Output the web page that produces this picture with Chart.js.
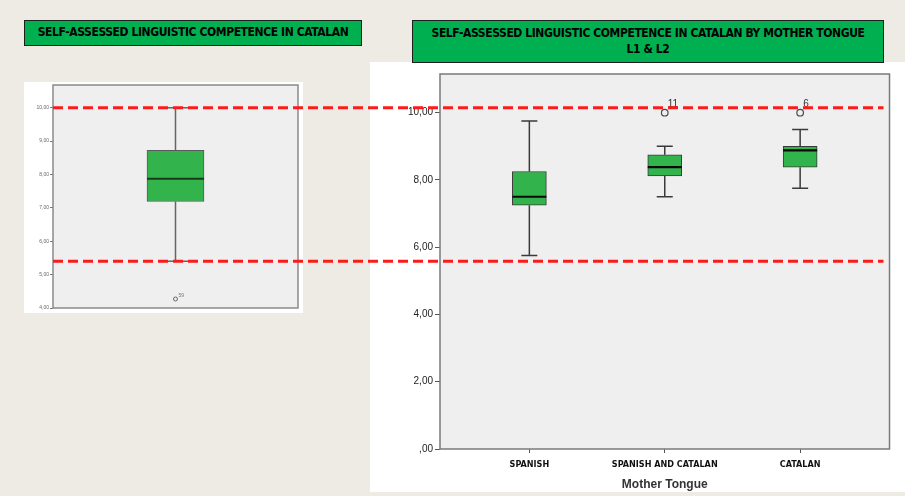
<!DOCTYPE html>
<html>
<head>
<meta charset="utf-8">
<script src="https://cdn.jsdelivr.net/npm/chart.js@4/dist/chart.umd.min.js"></script>
<style>
  html, body { margin: 0; padding: 0; }
  body { width: 905px; height: 496px; background: #EEEBE4; position: relative; overflow: hidden;
         font-family: "Liberation Sans", Arial, sans-serif; }
  .panel { position: absolute; background: #ffffff; }
  .panel canvas { display: block; position: relative; }
  .title { position: absolute; background: #00B050; border: 1.5px solid #1e1e1e; box-sizing: border-box;
           color: #000; font-family: "Liberation Sans Narrow", "DejaVu Sans Condensed", sans-serif;
           font-weight: bold; font-size: 12px; text-align: center; letter-spacing: -0.4px; }
  #guides { position: absolute; left: 0; top: 0; pointer-events: none; }
</style>
</head>
<body>

<div class="panel" style="left:24px;top:82px;width:279px;height:231px;">
  <canvas id="overall" width="279" height="233" style="width:279px;height:233px;top:-2px;filter:blur(0.45px);"></canvas>
</div>
<div class="panel" style="left:370px;top:62px;width:535px;height:430px;">
  <canvas id="byTongue" width="535" height="430" style="width:535px;height:430px;"></canvas>
</div>

<div class="title" style="left:24px;top:20px;width:338px;height:26px;line-height:23px;">SELF-ASSESSED LINGUISTIC COMPETENCE IN CATALAN</div>
<div class="title" style="left:412px;top:20px;width:472px;height:43px;padding-top:4px;line-height:16px;">SELF-ASSESSED LINGUISTIC COMPETENCE IN CATALAN BY MOTHER TONGUE<br>L1 &amp; L2</div>

<canvas id="guides" width="905" height="496"></canvas>

<script>
// ---- Overall self-assessed competence (all students) ----
const overallLow = 5.4;
const overallQ1 = 7.19;
const overallMedian = 7.87;
const overallQ3 = 8.72;
const overallHigh = 10.0;
const overallOutlierScore = [4.27];
const overallOutlierCase = ['59'];
const overallTicks = [4, 5, 6, 7, 8, 9, 10];

// ---- Competence by mother tongue ----
const categories = ['SPANISH', 'SPANISH AND CATALAN', 'CATALAN'];
const whiskerLow = [5.75, 7.5, 7.75];
const quartile1 = [7.25, 8.12, 8.38];
const medians = [7.5, 8.38, 8.88];
const quartile3 = [8.25, 8.75, 9.0];
const whiskerHigh = [9.75, 9.0, 9.5];
const outlierGroup = [2, 3];
const outlierScore = [10.0, 10.0];
const outlierCase = ['11', '6'];
const tongueTicks = [0, 2, 4, 6, 8, 10];

// reference levels drawn across both plots (top score and lowest whisker)
const guideLevels = [10.0, 5.4];

const NARROW = '"Liberation Sans Narrow", "DejaVu Sans Condensed", sans-serif';
const SANS = '"Liberation Sans", Arial, sans-serif';
const BOX_GREEN = '#33B34C';

function fmtComma(v) {
  let s = v.toFixed(2).replace('.', ',');
  if (s.startsWith('0,')) s = s.slice(1);
  return s;
}

// plot background and frame
const plotFrame = {
  id: 'plotFrame',
  beforeDraw(chart, args, o) {
    const { ctx, chartArea: a } = chart;
    ctx.save();
    ctx.fillStyle = o.fill;
    ctx.fillRect(a.left, a.top, a.right - a.left, a.bottom - a.top);
    ctx.restore();
  },
  afterDraw(chart, args, o) {
    const { ctx, chartArea: a } = chart;
    ctx.save();
    ctx.strokeStyle = o.stroke;
    ctx.lineWidth = o.width;
    ctx.strokeRect(a.left, a.top, a.right - a.left, a.bottom - a.top);
    ctx.restore();
  }
};

// whiskers, caps and median lines for each box
const boxParts = {
  id: 'boxParts',
  beforeDatasetsDraw(chart, args, o) {
    const { ctx, scales: { x, y } } = chart;
    const s = o.stats;
    ctx.save();
    ctx.strokeStyle = o.whiskerColor;
    ctx.lineWidth = o.whiskerWidth;
    s.pos.forEach((p, i) => {
      const cx = x.getPixelForValue(p);
      const h = o.capWidth / 2;
      const yl = y.getPixelForValue(s.low[i]), yh = y.getPixelForValue(s.high[i]);
      const y1 = y.getPixelForValue(s.q1[i]), y3 = y.getPixelForValue(s.q3[i]);
      ctx.beginPath();
      ctx.moveTo(cx, y3); ctx.lineTo(cx, yh);
      ctx.moveTo(cx - h, yh); ctx.lineTo(cx + h, yh);
      ctx.moveTo(cx, y1); ctx.lineTo(cx, yl);
      ctx.moveTo(cx - h, yl); ctx.lineTo(cx + h, yl);
      ctx.stroke();
    });
    ctx.restore();
  },
  afterDatasetsDraw(chart, args, o) {
    const { ctx, scales: { x, y } } = chart;
    const s = o.stats;
    const bars = chart.getDatasetMeta(0).data;
    ctx.save();
    ctx.strokeStyle = o.medianColor;
    ctx.lineWidth = o.medianWidth;
    s.pos.forEach((p, i) => {
      const cx = x.getPixelForValue(p);
      const hw = bars[i].width / 2;
      const ym = y.getPixelForValue(s.med[i]);
      ctx.beginPath();
      ctx.moveTo(cx - hw, ym); ctx.lineTo(cx + hw, ym);
      ctx.stroke();
    });
    // case labels next to outliers
    const pts = chart.getDatasetMeta(1).data;
    ctx.fillStyle = o.labelColor;
    ctx.font = o.labelFont;
    ctx.textAlign = 'left';
    ctx.textBaseline = 'bottom';
    pts.forEach((pt, i) => {
      ctx.fillText(o.labels[i], pt.x + o.labelDx, pt.y + o.labelDy);
    });
    ctx.restore();
  }
};

// ---------- overall chart ----------
const overallChart = new Chart(document.getElementById('overall'), {
  type: 'bar',
  data: {
    datasets: [{
      data: [{ x: 1, y: [overallQ1, overallQ3] }],
      backgroundColor: BOX_GREEN,
      borderColor: '#5a5a5a',
      borderWidth: 1,
      borderSkipped: false,
      barThickness: 57
    }, {
      type: 'scatter',
      data: overallOutlierScore.map(v => ({ x: 1, y: v })),
      pointStyle: 'circle',
      pointRadius: 2,
      backgroundColor: 'rgba(0,0,0,0)',
      borderColor: '#666',
      borderWidth: 1
    }]
  },
  plugins: [plotFrame, boxParts],
  options: {
    responsive: false,
    animation: false,
    events: [],
    layout: { padding: { top: 1, right: 3, bottom: 3, left: 0 } },
    plugins: {
      legend: { display: false },
      tooltip: { enabled: false },
      plotFrame: { fill: '#EFEFEF', stroke: '#8a8a8a', width: 1.5 },
      boxParts: {
        stats: { pos: [1], low: [overallLow], q1: [overallQ1], med: [overallMedian], q3: [overallQ3], high: [overallHigh] },
        capWidth: 28, whiskerColor: '#666', whiskerWidth: 1.5,
        medianColor: '#1a3a1a', medianWidth: 2,
        labels: overallOutlierCase, labelColor: '#777', labelFont: '5px ' + SANS, labelDx: 3, labelDy: -1
      }
    },
    scales: {
      x: {
        type: 'linear', min: 0, max: 2, offset: false, display: false,
        grid: { offset: false }
      },
      y: {
        min: 4, max: 10.68,
        afterBuildTicks: s => { s.ticks = overallTicks.map(v => ({ value: v })); },
        afterFit: s => { s.width = 29; },
        border: { display: false },
        grid: { drawOnChartArea: false, drawTicks: true, tickLength: 3, color: '#777' },
        ticks: { padding: 1, color: '#666', font: { family: SANS, size: 5 }, callback: v => fmtComma(v) }
      }
    }
  }
});

// ---------- by mother tongue chart ----------
const tongueChart = new Chart(document.getElementById('byTongue'), {
  type: 'bar',
  data: {
    datasets: [{
      data: categories.map((c, i) => ({ x: i + 1, y: [quartile1[i], quartile3[i]] })),
      backgroundColor: BOX_GREEN,
      borderColor: '#3a3a3a',
      borderWidth: 1,
      borderSkipped: false,
      barThickness: 34
    }, {
      type: 'scatter',
      data: outlierGroup.map((g, i) => ({ x: g, y: outlierScore[i] })),
      pointStyle: 'circle',
      pointRadius: 3.3,
      backgroundColor: 'rgba(0,0,0,0)',
      borderColor: '#4a4a4a',
      borderWidth: 1.2
    }]
  },
  plugins: [plotFrame, boxParts],
  options: {
    responsive: false,
    animation: false,
    events: [],
    layout: { padding: { top: 12, right: 15.5, bottom: 0, left: 0 } },
    plugins: {
      legend: { display: false },
      tooltip: { enabled: false },
      plotFrame: { fill: '#EFEFEF', stroke: '#7a7a7a', width: 1.5 },
      boxParts: {
        stats: { pos: [1, 2, 3], low: whiskerLow, q1: quartile1, med: medians, q3: quartile3, high: whiskerHigh },
        capWidth: 16, whiskerColor: '#3a3a3a', whiskerWidth: 1.5,
        medianColor: '#0a0a0a', medianWidth: 2.2,
        labels: outlierCase, labelColor: '#333', labelFont: '10px ' + SANS, labelDx: 3, labelDy: -3
      }
    },
    scales: {
      x: {
        type: 'linear', min: 0.34, max: 3.66, offset: false,
        afterBuildTicks: s => { s.ticks = categories.map((c, i) => ({ value: i + 1 })); },
        afterFit: s => { s.height = 43; },
        border: { display: false },
        grid: { offset: false, drawOnChartArea: false, drawTicks: true, tickLength: 4, color: '#555' },
        ticks: {
          padding: 6, color: '#111', maxRotation: 0, autoSkip: false,
          font: { family: NARROW, size: 9, weight: 'bold' },
          callback: v => categories[v - 1]
        },
        title: {
          display: true, text: 'Mother Tongue', color: '#333',
          font: { family: SANS, size: 12, weight: 'bold' },
          padding: { top: 0, bottom: 0 }
        }
      },
      y: {
        min: 0, max: 11.15,
        afterBuildTicks: s => { s.ticks = tongueTicks.map(v => ({ value: v })); },
        afterFit: s => { s.width = 70; },
        border: { display: false },
        grid: { drawOnChartArea: false, drawTicks: true, tickLength: 5, color: '#555' },
        ticks: { padding: 2, color: '#222', font: { family: SANS, size: 10 }, callback: v => fmtComma(v) }
      }
    }
  }
});

// ---------- dashed reference lines spanning both plots ----------
(function drawGuides() {
  const g = document.getElementById('guides').getContext('2d');
  const lr = overallChart.canvas.getBoundingClientRect();
  const rr = tongueChart.canvas.getBoundingClientRect();
  const x0 = lr.left + overallChart.chartArea.left;
  const x1 = rr.left + tongueChart.chartArea.right - 6;
  g.save();
  g.strokeStyle = '#FF1A1A';
  g.lineWidth = 3;
  g.setLineDash([10, 5]);
  guideLevels.forEach(v => {
    const yy = lr.top + overallChart.scales.y.getPixelForValue(v);
    g.beginPath();
    g.moveTo(x0, yy);
    g.lineTo(x1, yy);
    g.stroke();
  });
  g.restore();
})();
</script>
</body>
</html>
